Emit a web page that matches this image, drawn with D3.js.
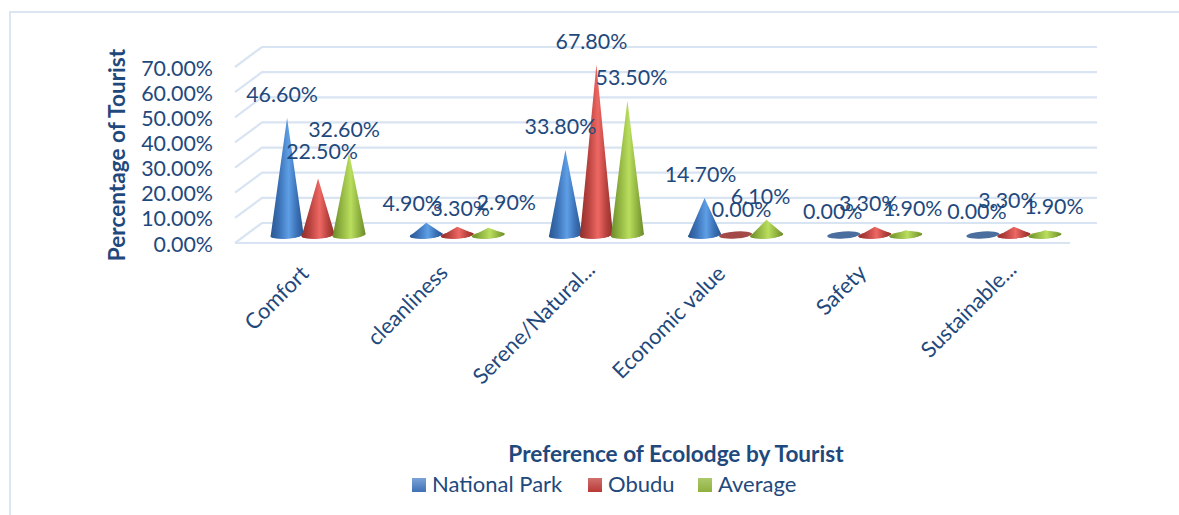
<!DOCTYPE html>
<html>
<head>
<meta charset="utf-8">
<script src="https://cdn.jsdelivr.net/npm/d3@7"></script>
<style>
  html, body { margin: 0; padding: 0; background: #fff; }
  text { font-family: Lato, "Open Sans", sans-serif; fill: #1f497d; }
</style>
</head>
<body>
<svg id="chart" width="1179" height="515"></svg>
<script>
// Survey results: share of tourists preferring each ecolodge attribute
const categories = ["Comfort", "cleanliness", "Serene/Natural...", "Economic value", "Safety", "Sustainable..."];
const seriesNames = ["National Park", "Obudu", "Average"];
const nationalPark = [46.6, 4.9, 33.8, 14.7, 0, 0];
const obudu = [22.5, 3.3, 67.8, 0, 3.3, 3.3];
const average = [32.6, 2.9, 53.5, 6.1, 1.9, 1.9];
const yTicks = [0, 10, 20, 30, 40, 50, 60, 70];
const seriesColors = [
  { edge: "#2a5790", side: "#3a70b5", mid: "#5f9fe6", flat: "#4a6f9e", key: ["#7ba3d8", "#3f71b5"] },
  { edge: "#8f2f2b", side: "#b8423e", mid: "#ee6864", flat: "#a34a48", key: ["#d26f6c", "#b83a37"] },
  { edge: "#6b8a2a", side: "#8fb240", mid: "#bade5e", flat: "#7f9c3e", key: ["#adc96b", "#8fb03f"] }
];
const seriesValues = [nationalPark, obudu, average];

// Hand placement of each data label relative to its cone tip, by series then category
const labelDx = [[-5, -14, -5, -4, -11, -6], [4, 3, -5, 6, -6, -6], [-5, 18, 4, -6, 7, 9]];
const labelDy = [[-16, -12, -16, -16, -16, -16], [-19, -11, -16, -18, -16, -19], [-16, -18, -15, -16, -14, -16]];
// Hand placement of the rotated category labels
const categoryDx = [-2, -2, 6, -3, -1, 10];
const categoryDy = [3, 2, -1, 3, 2, -1];

const svg = d3.select("#chart");
const fmt = v => v.toFixed(2) + "%";

// Oblique projection of the floor and back wall
const depth = { x: 27, y: -20 };
const plot = { left: 235, right: 1070 };
const y = d3.scaleLinear().domain([0, 70]).range([243, 67]);
const x0 = d3.scaleBand().domain(categories).range([plot.left, plot.right]);
const x1 = d3.scalePoint().domain(seriesNames).range([-31, 31]);
const baseY = y(0) - 8;
const coneRx = 16.5, coneRy = 3.5;
const tilt = -4;
const groupCenter = c => x0(c) + x0.bandwidth() / 2 + depth.x / 2;

// Frame around the chart area
svg.append("rect")
  .attr("x", 10).attr("y", 12).attr("width", 1190).attr("height", 540)
  .attr("fill", "#fff").attr("stroke", "#dce6f2").attr("stroke-width", 2);

// Gridlines run up the side wall and across the back wall
const gridColor = "#d9e4f2";
svg.append("g").selectAll("path").data(yTicks).join("path")
  .attr("fill", "none").attr("stroke", gridColor).attr("stroke-width", 2.2)
  .attr("d", t => {
    const p = d3.path();
    p.moveTo(plot.left, y(t));
    p.lineTo(plot.left + depth.x, y(t) + depth.y);
    p.lineTo(plot.right + depth.x, y(t) + depth.y);
    return p.toString();
  });
svg.append("line")
  .attr("x1", plot.left).attr("x2", plot.right)
  .attr("y1", y(0)).attr("y2", y(0))
  .attr("stroke", gridColor).attr("stroke-width", 2.2);

// Value axis labels
svg.append("g").selectAll("text").data(yTicks).join("text")
  .attr("x", 213).attr("y", t => y(t) + 8.5)
  .attr("text-anchor", "end").attr("font-size", 21.4)
  .text(fmt);

svg.append("text")
  .attr("transform", "translate(125,155) rotate(-90)")
  .attr("text-anchor", "middle").attr("font-size", 22.6).attr("font-weight", 700)
  .text("Percentage of Tourist");

// Cone fills: dark at the silhouette edges, bright along the lit side
const defs = svg.append("defs");
seriesColors.forEach((c, i) => {
  const g = defs.append("linearGradient").attr("id", "cone" + i)
    .attr("x1", "0").attr("x2", "1").attr("y1", "0").attr("y2", "0");
  [[0, c.edge], [0.25, c.side], [0.55, c.mid], [0.8, c.side], [1, c.edge]].forEach(([o, col]) =>
    g.append("stop").attr("offset", o).attr("stop-color", col));
  const k = defs.append("linearGradient").attr("id", "key" + i)
    .attr("x1", "0").attr("x2", "0").attr("y1", "0").attr("y2", "1");
  k.append("stop").attr("offset", 0).attr("stop-color", c.key[0]);
  k.append("stop").attr("offset", 1).attr("stop-color", c.key[1]);
});

const conesData = [];
categories.forEach((cat, ci) => seriesNames.forEach((s, si) => {
  conesData.push({ cat, ci, s, si, value: seriesValues[si][ci] });
}));
const coneX = d => groupCenter(d.cat) + x1(d.s);
const coneHeight = v => y(0) - y(v);

const cones = svg.append("g").selectAll("g").data(conesData).join("g")
  .attr("transform", d => `translate(${coneX(d)},${baseY})`);

// Base ellipse, which is all that shows for a zero value
cones.append("ellipse")
  .attr("rx", coneRx).attr("ry", coneRy)
  .attr("transform", `rotate(${tilt})`)
  .attr("fill", d => d.value === 0 ? seriesColors[d.si].flat : seriesColors[d.si].side);

// Silhouette: tip, two sides, and the near half of the base ellipse
cones.filter(d => d.value > 0).append("path")
  .attr("fill", d => `url(#cone${d.si})`)
  .attr("d", d => {
    const h = coneHeight(d.value);
    const a = tilt * Math.PI / 180;
    const dx = coneRx * Math.cos(a), dy = coneRx * Math.sin(a);
    return `M${-dx},${-dy}L0,${-h}L${dx},${dy}A${coneRx},${coneRy} ${tilt} 0 1 ${-dx},${-dy}Z`;
  });

// Data labels
svg.append("g").selectAll("text").data(conesData).join("text")
  .attr("x", d => coneX(d) + labelDx[d.si][d.ci])
  .attr("y", d => baseY - coneHeight(d.value) + labelDy[d.si][d.ci])
  .attr("text-anchor", "middle").attr("font-size", 21.4)
  .text(d => fmt(d.value));

// Category labels, rotated 45 degrees and ending under each group
svg.append("g").selectAll("text").data(categories).join("text")
  .attr("transform", (c, i) => `translate(${groupCenter(c) - 6 + categoryDx[i]},${272 + categoryDy[i]}) rotate(-45)`)
  .attr("text-anchor", "end").attr("font-size", 21.8)
  .text(c => c);

// Axis title and legend
svg.append("text")
  .attr("x", 676).attr("y", 462).attr("text-anchor", "middle")
  .attr("font-size", 22.6).attr("font-weight", 700)
  .text("Preference of Ecolodge by Tourist");

const legendX = [412, 588, 698];
const legend = svg.append("g").selectAll("g").data(seriesNames).join("g")
  .attr("transform", (d, i) => `translate(${legendX[i]},478)`);
legend.append("rect").attr("width", 14).attr("height", 14)
  .attr("fill", (d, i) => `url(#key${i})`);
legend.append("text").attr("x", 20).attr("y", 14).attr("font-size", 22).text(d => d);
</script>
</body>
</html>
